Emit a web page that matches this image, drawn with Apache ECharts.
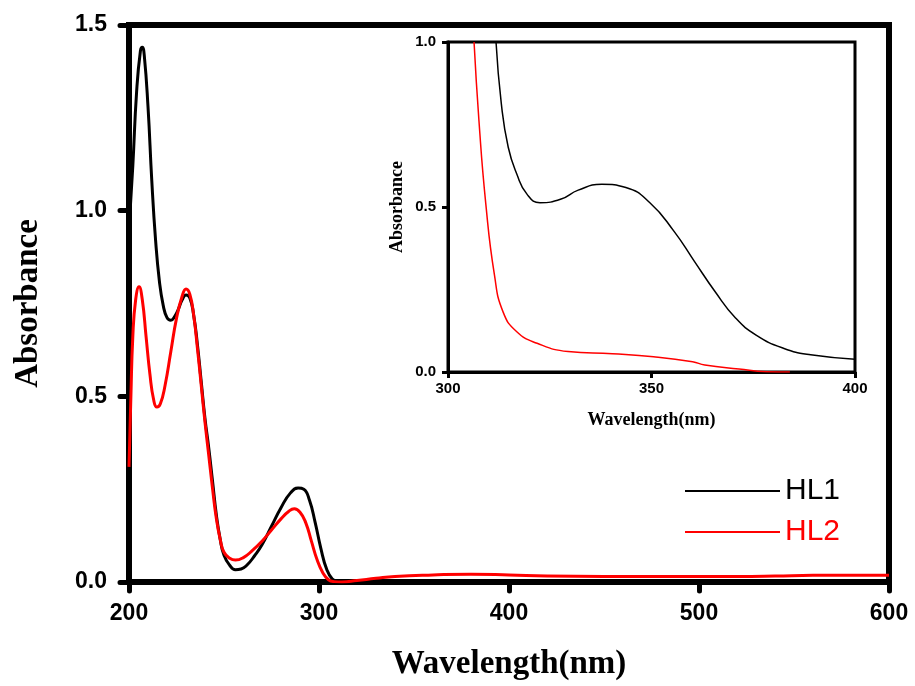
<!DOCTYPE html>
<html>
<head>
<meta charset="utf-8">
<script src="https://cdn.jsdelivr.net/npm/echarts@6/dist/echarts.min.js"></script>
<style>
  html, body { margin: 0; padding: 0; background: #fff; }
  #chart { width: 915px; height: 686px; }
</style>
</head>
<body>
<div id="chart"></div>
<script>
// UV-Vis absorption spectra of HL1 and HL2, full range (200-600 nm)
const wlHL1 = [200, 202, 204, 206, 207, 208, 210, 212, 214, 216, 218, 220, 222, 224, 226, 228, 230, 232, 234, 236, 238, 240, 242, 244, 246, 248, 250, 253, 256, 259, 262, 266, 270, 275, 280, 285, 289, 292, 295, 298, 301, 304, 307, 310, 320, 400, 500, 600];
const absHL1 = [0.95, 1.12, 1.32, 1.43, 1.44, 1.42, 1.28, 1.08, 0.92, 0.81, 0.745, 0.712, 0.705, 0.715, 0.735, 0.76, 0.773, 0.765, 0.72, 0.64, 0.54, 0.44, 0.36, 0.27, 0.18, 0.115, 0.072, 0.045, 0.033, 0.035, 0.045, 0.07, 0.1, 0.15, 0.2, 0.24, 0.253, 0.25, 0.22, 0.16, 0.09, 0.035, 0.008, 0.002, 0.001, 0.002, 0.002, 0.003];

const wlHL2 = [200, 201, 202, 203.5, 205.3, 207, 209, 211, 213, 214.7, 216.5, 219, 222, 225, 228, 230, 232, 234, 236, 238, 240, 242, 244, 246, 248, 250, 253, 256, 260, 265, 270, 275, 280, 284, 287, 290, 293, 296, 299, 302, 305, 308, 312, 320, 330, 340, 360, 380, 400, 420, 450, 480, 500, 520, 540, 560, 580, 600];
const absHL2 = [0.31, 0.5, 0.66, 0.76, 0.795, 0.76, 0.66, 0.56, 0.49, 0.471, 0.48, 0.53, 0.62, 0.71, 0.77, 0.789, 0.775, 0.72, 0.63, 0.53, 0.43, 0.34, 0.25, 0.17, 0.115, 0.08, 0.064, 0.059, 0.065, 0.085, 0.11, 0.14, 0.17, 0.19, 0.197, 0.188, 0.16, 0.11, 0.06, 0.025, 0.006, 0.001, 0.0, 0.004, 0.01, 0.015, 0.019, 0.021, 0.019, 0.016, 0.015, 0.015, 0.015, 0.015, 0.016, 0.018, 0.018, 0.018];

// Inset: 300-400 nm region
const wlInsetHL1 = [311.8, 313.1, 314.8, 316.9, 319.4, 322.6, 327.8, 332.0, 337.8, 343.7, 349.6, 355.5, 360.5, 365.6, 370.7, 375.7, 382.4, 389.1, 400];
const absInsetHL1 = [1.0, 0.813, 0.681, 0.6, 0.539, 0.513, 0.524, 0.551, 0.569, 0.559, 0.513, 0.427, 0.336, 0.244, 0.163, 0.112, 0.072, 0.052, 0.039];

const wlInsetHL2 = [306.4, 307.6, 309.3, 311.4, 313.5, 316.9, 321.9, 329.5, 340.4, 350.5, 360.1, 363.1, 371.5, 378.2, 384];
const absInsetHL2 = [1.0, 0.762, 0.508, 0.295, 0.183, 0.122, 0.087, 0.062, 0.055, 0.046, 0.031, 0.021, 0.009, 0.001, 0.0];

const mainXTicks = [200, 300, 400, 500, 600];
const mainYTicks = [0.0, 0.5, 1.0, 1.5];
const insetXTicks = [300, 350, 400];
const insetYTicks = [0.0, 0.5, 1.0];

const pairs = (xs, ys) => xs.map((x, i) => [x, ys[i]]);

const SANS = '"Liberation Sans", Arial, sans-serif';
const SERIF = '"Liberation Serif", "Times New Roman", serif';

const chart = echarts.init(document.getElementById('chart'));

const option = {
  backgroundColor: '#ffffff',
  animation: false,
  grid: [
    { left: 129, top: 25, width: 760, height: 557, show: true, borderColor: '#000', borderWidth: 6, backgroundColor: 'transparent' },
    { left: 448, top: 42, width: 407, height: 330, show: true, borderColor: '#000', borderWidth: 3, backgroundColor: '#fff', z: 5 }
  ],
  legend: {
    orient: 'vertical',
    left: 680,
    top: 471,
    itemWidth: 95,
    itemHeight: 2,
    itemGap: 11,
    icon: 'rect',
    textStyle: { fontFamily: SANS, fontSize: 30, lineHeight: 30, padding: [0, 0, 0, 0] },
    data: [
      { name: 'HL1', textStyle: { color: '#000' } },
      { name: 'HL2', textStyle: { color: '#ff0000' } }
    ]
  },
  xAxis: [
    {
      gridIndex: 0, type: 'value', min: mainXTicks[0], max: mainXTicks[mainXTicks.length - 1], interval: 100,
      name: 'Wavelength(nm)', nameLocation: 'middle', nameGap: 66,
      nameTextStyle: { fontFamily: SERIF, fontWeight: 'bold', fontSize: 33, color: '#000' },
      axisLine: { show: true, lineStyle: { color: '#000', width: 6 } },
      axisTick: { show: true, inside: false, length: 9, lineStyle: { color: '#000', width: 5, cap: 'round' } },
      axisLabel: { margin: 20, fontFamily: SANS, fontWeight: 'bold', fontSize: 23, color: '#000' },
      splitLine: { show: false }
    },
    {
      gridIndex: 1, type: 'value', min: insetXTicks[0], max: insetXTicks[insetXTicks.length - 1], interval: 50,
      name: 'Wavelength(nm)', nameLocation: 'middle', nameGap: 39,
      nameTextStyle: { fontFamily: SERIF, fontWeight: 'bold', fontSize: 18, color: '#000' },
      axisLine: { show: true, lineStyle: { color: '#000', width: 3 } },
      axisTick: { show: true, inside: false, length: 6, lineStyle: { color: '#000', width: 3 } },
      axisLabel: { margin: 9, fontFamily: SANS, fontWeight: 'bold', fontSize: 15, color: '#000' },
      splitLine: { show: false }, z: 6
    }
  ],
  yAxis: [
    {
      gridIndex: 0, type: 'value', min: mainYTicks[0], max: mainYTicks[mainYTicks.length - 1], interval: 0.5,
      name: 'Absorbance', nameLocation: 'middle', nameGap: 84, nameRotate: 90,
      nameTextStyle: { fontFamily: SERIF, fontWeight: 'bold', fontSize: 33, color: '#000' },
      axisLine: { show: true, lineStyle: { color: '#000', width: 6 } },
      axisTick: { show: true, inside: false, length: 9, lineStyle: { color: '#000', width: 5, cap: 'round' } },
      axisLabel: { margin: 22, fontFamily: SANS, fontWeight: 'bold', fontSize: 23, color: '#000', formatter: v => v.toFixed(1) },
      splitLine: { show: false }
    },
    {
      gridIndex: 1, type: 'value', min: insetYTicks[0], max: insetYTicks[insetYTicks.length - 1], interval: 0.5,
      name: 'Absorbance', nameLocation: 'middle', nameGap: 42, nameRotate: 90,
      nameTextStyle: { fontFamily: SERIF, fontWeight: 'bold', fontSize: 18, color: '#000' },
      axisLine: { show: true, lineStyle: { color: '#000', width: 3 } },
      axisTick: { show: true, inside: false, length: 6, lineStyle: { color: '#000', width: 3 } },
      axisLabel: { margin: 12, fontFamily: SANS, fontWeight: 'bold', fontSize: 15, color: '#000', formatter: v => v.toFixed(1) },
      splitLine: { show: false }, z: 6
    }
  ],
  series: [
    {
      name: 'HL1', type: 'line', xAxisIndex: 0, yAxisIndex: 0,
      data: pairs(wlHL1, absHL1), showSymbol: false, symbol: 'none',
      smooth: 0.5,
      lineStyle: { color: '#000', width: 3 }, itemStyle: { color: '#000' }, z: 2
    },
    {
      name: 'HL2', type: 'line', xAxisIndex: 0, yAxisIndex: 0,
      data: pairs(wlHL2, absHL2), showSymbol: false, symbol: 'none',
      smooth: 0.5,
      lineStyle: { color: '#ff0000', width: 3 }, itemStyle: { color: '#ff0000' }, z: 3
    },
    {
      name: 'HL1', type: 'line', xAxisIndex: 1, yAxisIndex: 1,
      data: pairs(wlInsetHL1, absInsetHL1), showSymbol: false, symbol: 'none',
      smooth: 0.5,
      lineStyle: { color: '#000', width: 1.5 }, itemStyle: { color: '#000' }, z: 7
    },
    {
      name: 'HL2', type: 'line', xAxisIndex: 1, yAxisIndex: 1,
      data: pairs(wlInsetHL2, absInsetHL2), showSymbol: false, symbol: 'none',
      smooth: 0.5,
      lineStyle: { color: '#ff0000', width: 1.5 }, itemStyle: { color: '#ff0000' }, z: 7
    }
  ]
};

chart.setOption(option);
</script>
</body>
</html>
